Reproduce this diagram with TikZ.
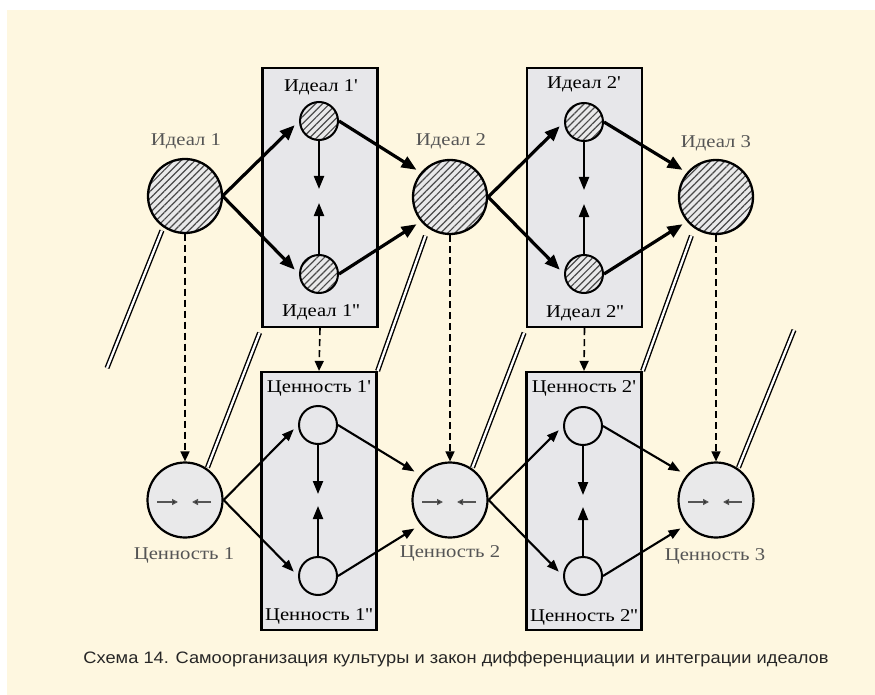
\documentclass[tikz,border=0pt]{standalone}
\usepackage{fontspec}
\setmainfont{Liberation Serif}
\newfontfamily\labelfont[FakeStretch=1.15]{Liberation Serif}
\newfontfamily\capfont{Liberation Sans}
\usetikzlibrary{arrows.meta,patterns.meta}
\definecolor{paper}{HTML}{FEF7E0}
\definecolor{panelgray}{HTML}{E7E7EA}
\definecolor{discgray}{HTML}{E9E9EA}
\definecolor{hatchgray}{HTML}{4A4A4A}
\definecolor{softtext}{HTML}{555555}

\begin{document}
\begin{tikzpicture}[x=1pt,y=-1pt,
  panel/.style={draw, line width=2.2pt, fill=panelgray, minimum width=115pt, inner sep=0pt},
  bigideal/.style={circle, draw, line width=2.3pt, minimum size=74pt, inner sep=0pt,
    preaction={fill=discgray}, pattern={Lines[angle=45,distance=5pt,line width=1.2pt]}, pattern color=hatchgray},
  smallideal/.style={circle, draw, line width=2pt, minimum size=38pt, inner sep=0pt,
    preaction={fill=discgray}, pattern={Lines[angle=45,distance=5pt,line width=1.2pt]}, pattern color=hatchgray},
  bigvalue/.style={circle, draw, line width=2.2pt, minimum size=75pt, inner sep=0pt, fill=discgray},
  smallvalue/.style={circle, draw, line width=2pt, minimum size=38pt, inner sep=0pt, fill=panelgray},
  heavyarrow/.style={line width=3.2pt, -{Triangle[length=15pt,width=12pt]}},
  lightarrow/.style={line width=2.1pt, -{Triangle[length=12pt,width=9pt]}},
  innerarrow/.style={line width=2.1pt, -{Triangle[length=13pt,width=10pt]}},
  droparrow/.style={line width=1.6pt, dash pattern=on 7pt off 4pt, -{Triangle[length=10pt,width=9pt]}},
  hollowline/.style={line width=1.4pt, double=white, double distance=2.3pt},
  tinyarrow/.style={draw=softtext, line width=1.3pt, -{Triangle[length=6pt,width=6pt,fill=black]}},
  boxlabel/.style={font=\labelfont\fontsize{18}{18}\selectfont, inner sep=0pt},
  outerlabel/.style={font=\labelfont\fontsize{18}{18}\selectfont, inner sep=0pt, text=softtext}
]
\useasboundingbox (0,0) rectangle (875,695);
\fill[white] (0,0) rectangle (875,695);
\fill[paper] (7,10) rectangle (875,695);

% panels
\node[panel, minimum height=259pt] (p1top) at (320,197.5) {};
\node[panel, minimum height=259pt] (p2top) at (584.5,197.5) {};
\node[panel, minimum height=258pt] (p1bot) at (319,501) {};
\node[panel, minimum height=258pt] (p2bot) at (584,501) {};

% ideals
\node[bigideal] (i1) at (185,196) {};
\node[bigideal] (i2) at (450,197) {};
\node[bigideal] (i3) at (716,197) {};
\node[smallideal] (a1t) at (319,121) {};
\node[smallideal] (a1b) at (319,274) {};
\node[smallideal] (a2t) at (584,122) {};
\node[smallideal] (a2b) at (584,274) {};

% values
\node[bigvalue] (v1) at (185,500) {};
\node[bigvalue] (v2) at (450,500) {};
\node[bigvalue] (v3) at (716,500) {};
\node[smallvalue] (b1t) at (318,425) {};
\node[smallvalue] (b1b) at (318,576) {};
\node[smallvalue] (b2t) at (583,426) {};
\node[smallvalue] (b2b) at (583,576) {};

% meeting points of the inner vertical arrows
\coordinate (a1m) at (319,196);
\coordinate (a2m) at (584,197);
\coordinate (b1m) at (318,500);
\coordinate (b2m) at (583,501);

% labels
\node[outerlabel] (li1) at (186,141) {Идеал 1};
\node[outerlabel] (li2) at (451,141) {Идеал 2};
\node[outerlabel] (li3) at (716,143) {Идеал 3};
\node[boxlabel] (la1t) at (321,87) {Идеал 1'};
\node[boxlabel] (la1b) at (321,312) {Идеал 1''};
\node[boxlabel] (la2t) at (584,84) {Идеал 2'};
\node[boxlabel] (la2b) at (585,313) {Идеал 2''};
\node[outerlabel] (lv1) at (184,555) {Ценность 1};
\node[outerlabel] (lv2) at (450,553) {Ценность 2};
\node[outerlabel] (lv3) at (715,556) {Ценность 3};
\node[boxlabel] (lb1t) at (319,388) {Ценность 1'};
\node[boxlabel] (lb1b) at (319,616) {Ценность 1''};
\node[boxlabel] (lb2t) at (584,388) {Ценность 2'};
\node[boxlabel] (lb2b) at (584,617) {Ценность 2''};

% differentiation and integration of ideals
\draw[heavyarrow, shorten >=6pt] (i1.east) -- (a1t.west);
\draw[heavyarrow, shorten >=6pt] (i1.east) -- (a1b.west);
\draw[heavyarrow, shorten >=5pt] (a1t.east) -- (i2.140);
\draw[heavyarrow, shorten >=5pt] (a1b.east) -- (i2.220);
\draw[heavyarrow, shorten >=6pt] (i2.east) -- (a2t.west);
\draw[heavyarrow, shorten >=6pt] (i2.east) -- (a2b.west);
\draw[heavyarrow, shorten >=5pt] (a2t.east) -- (i3.140);
\draw[heavyarrow, shorten >=5pt] (a2b.east) -- (i3.220);
\draw[innerarrow] (a1t.south) -- ([yshift=7pt]a1m);
\draw[innerarrow] (a1b.north) -- ([yshift=-7pt]a1m);
\draw[innerarrow] (a2t.south) -- ([yshift=7pt]a2m);
\draw[innerarrow] (a2b.north) -- ([yshift=-7pt]a2m);

% differentiation and integration of values
\draw[lightarrow, shorten >=6pt] (v1.east) -- (b1t.west);
\draw[lightarrow, shorten >=6pt] (v1.east) -- (b1b.west);
\draw[lightarrow, shorten >=7pt] (b1t.east) -- (v2.140);
\draw[lightarrow, shorten >=7pt] (b1b.east) -- (v2.220);
\draw[lightarrow, shorten >=6pt] (v2.east) -- (b2t.west);
\draw[lightarrow, shorten >=6pt] (v2.east) -- (b2b.west);
\draw[lightarrow, shorten >=7pt] (b2t.east) -- (v3.140);
\draw[lightarrow, shorten >=7pt] (b2b.east) -- (v3.220);
\draw[innerarrow] (b1t.south) -- ([yshift=6pt]b1m);
\draw[innerarrow] (b1b.north) -- ([yshift=-6pt]b1m);
\draw[innerarrow] (b2t.south) -- ([yshift=6pt]b2m);
\draw[innerarrow] (b2b.north) -- ([yshift=-6pt]b2m);

% ideals descending into values
\draw[droparrow] (i1.south) -- (v1.north);
\draw[droparrow] (p1top.south) -- (p1bot.north);
\draw[droparrow] (i2.south) -- (v2.north);
\draw[droparrow] (p2top.south) -- (p2bot.north);
\draw[droparrow] (i3.south) -- (v3.north);

% values rising into ideals
\coordinate (risein) at (107,368);
\coordinate (riseout) at (794,330);
\draw[hollowline, shorten >=4pt] (risein) -- (i1.235);
\draw[hollowline, shorten <=1pt, shorten >=5pt] (v1.55) -- (p1top.south west);
\draw[hollowline, shorten >=8pt] (p1bot.north east) -- (i2.235);
\draw[hollowline, shorten <=1pt, shorten >=5pt] (v2.55) -- (p2top.south west);
\draw[hollowline, shorten >=8pt] (p2bot.north east) -- (i3.235);
\draw[hollowline, shorten <=1pt] (v3.55) -- (riseout);

% convergence marks inside the values
\foreach \v in {v1,v2,v3}{
  \draw[tinyarrow] ([xshift=-28pt,yshift=-2pt]\v.center) -- ([xshift=-7pt,yshift=-2pt]\v.center);
  \draw[tinyarrow] ([xshift=26pt,yshift=-2pt]\v.center) -- ([xshift=7pt,yshift=-2pt]\v.center);
}

% caption
\node[inner sep=0pt, text=black!85] (caption) at (456,659)
  {\capfont\resizebox{745pt}{12pt}{Схема 14. Самоорганизация культуры и закон дифференциации и интеграции идеалов}};
\end{tikzpicture}
\end{document}
